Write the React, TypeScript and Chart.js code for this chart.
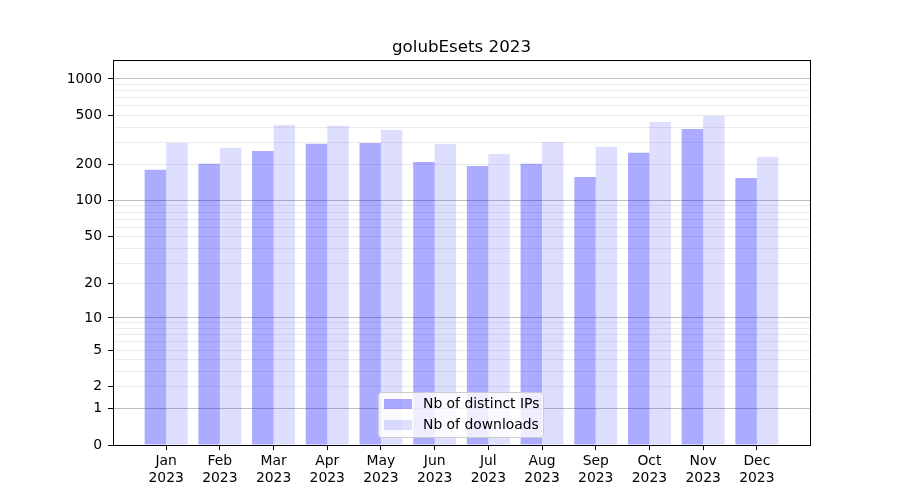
import React, { useEffect, useRef } from "react";
import { Chart, registerables, LinearScale } from "chart.js";

Chart.register(...registerables);

class Log1pScale extends LinearScale {
  static id = "log1p";
  static defaults = LinearScale.defaults;
  getPixelForValue(value: number) {
    const tmax = Math.log10(1 + this.max);
    const t = Math.log10(1 + Math.max(0, value));
    return this.getPixelForDecimal(t / tmax);
  }
  getValueForPixel(pixel: number) {
    const tmax = Math.log10(1 + this.max);
    return Math.pow(10, this.getDecimalForPixel(pixel) * tmax) - 1;
  }
}
Chart.register(Log1pScale as any);

const TITLE = "golubEsets 2023";
const months = ["Jan", "Feb", "Mar", "Apr", "May", "Jun", "Jul", "Aug", "Sep", "Oct", "Nov", "Dec"];
const yearLabel = "2023";
const distinctIPs = [179, 201, 256, 293, 298, 208, 193, 201, 156, 247, 388, 153];
const downloads = [298, 272, 419, 412, 381, 292, 242, 304, 277, 444, 497, 229];
const seriesNames = ["Nb of distinct IPs", "Nb of downloads"];
const labeledTicks = [0, 1, 2, 5, 10, 20, 50, 100, 200, 500, 1000];
const decadeTicks = [1, 10, 100, 1000];
const minorTicks = [2, 3, 4, 5, 6, 7, 8, 9, 20, 30, 40, 50, 60, 70, 80, 90, 200, 300, 400, 500, 600, 700, 800, 900];
const Y_MAX = 1430;

const colorDark = "rgba(0,0,255,0.33)";
const colorLight = "rgba(0,0,255,0.13)";
const FONT = '"DejaVu Sans", sans-serif';

const framePlugin = {
  id: "frameTitleLegend",
  afterDraw(chart: any) {
    const { ctx, chartArea } = chart;
    ctx.save();
    ctx.strokeStyle = "#000";
    ctx.lineWidth = 1;
    ctx.strokeRect(
      Math.round(chartArea.left) + 0.5,
      Math.round(chartArea.top) + 0.5,
      Math.round(chartArea.right - chartArea.left),
      Math.round(chartArea.bottom - chartArea.top)
    );
    ctx.fillStyle = "#000";
    ctx.font = `16.7px ${FONT}`;
    ctx.textAlign = "center";
    ctx.textBaseline = "alphabetic";
    ctx.fillText(TITLE, (chartArea.left + chartArea.right) / 2, 52);
    const bx = 378.5, by = 392.5, bw = 165, bh = 45, r = 3;
    ctx.beginPath();
    ctx.moveTo(bx + r, by);
    ctx.lineTo(bx + bw - r, by);
    ctx.quadraticCurveTo(bx + bw, by, bx + bw, by + r);
    ctx.lineTo(bx + bw, by + bh - r);
    ctx.quadraticCurveTo(bx + bw, by + bh, bx + bw - r, by + bh);
    ctx.lineTo(bx + r, by + bh);
    ctx.quadraticCurveTo(bx, by + bh, bx, by + bh - r);
    ctx.lineTo(bx, by + r);
    ctx.quadraticCurveTo(bx, by, bx + r, by);
    ctx.closePath();
    ctx.fillStyle = "rgba(255,255,255,0.8)";
    ctx.fill();
    ctx.strokeStyle = "#cccccc";
    ctx.stroke();
    const colors = [colorDark, colorLight];
    ctx.font = `13.9px ${FONT}`;
    ctx.textAlign = "left";
    ctx.textBaseline = "middle";
    seriesNames.forEach((name, i) => {
      const y = 399 + i * 21;
      ctx.fillStyle = colors[i];
      ctx.fillRect(384, y, 28, 10);
      ctx.fillStyle = "#000";
      ctx.fillText(name, 423, y + 5);
    });
    ctx.restore();
  },
};

export default function App() {
  const ref = useRef<HTMLCanvasElement>(null);
  useEffect(() => {
    document.body.style.margin = "0";
    const chart = new Chart(ref.current!, {
      type: "bar",
      data: {
        datasets: [
          {
            label: seriesNames[0],
            data: distinctIPs.map((v, i) => ({ x: i, y: v })),
            backgroundColor: colorDark,
            borderWidth: 0,
          },
          {
            label: seriesNames[1],
            data: downloads.map((v, i) => ({ x: i, y: v })),
            backgroundColor: colorLight,
            borderWidth: 0,
          },
        ],
      },
      options: {
        responsive: false,
        animation: false,
        devicePixelRatio: 1,
        layout: { padding: { left: 0, top: 60, right: 90, bottom: 0 } },
        datasets: { bar: { categoryPercentage: 0.8, barPercentage: 1.0 } },
        plugins: { legend: { display: false }, title: { display: false }, tooltip: { enabled: false } },
        scales: {
          x: {
            type: "linear",
            min: -0.99,
            max: 11.99,
            offset: false,
            afterBuildTicks: (scale: any) => {
              scale.ticks = months.map((_, i) => ({ value: i }));
            },
            afterFit: (scale: any) => {
              scale.height = 55;
            },
            ticks: {
              autoSkip: false,
              maxRotation: 0,
              padding: 3,
              color: "#000",
              font: { family: FONT, size: 13.9 },
              callback: (v: any) => [months[Math.round(v)], yearLabel],
            },
            grid: { offset: false, drawOnChartArea: false, drawTicks: true, tickLength: 5, tickColor: "#000" },
            border: { display: true, color: "#000", width: 1 },
          },
          y: {
            type: "log1p" as any,
            min: 0,
            max: Y_MAX,
            afterBuildTicks: (scale: any) => {
              const vals = Array.from(new Set([0, ...labeledTicks, ...minorTicks, ...decadeTicks])).sort((a, b) => a - b);
              scale.ticks = vals.map((v) => ({ value: v }));
            },
            afterFit: (scale: any) => {
              scale.width = 113;
            },
            ticks: {
              autoSkip: false,
              padding: 6,
              color: "#000",
              font: { family: FONT, size: 13.9 },
              callback: (v: any) => (labeledTicks.includes(v) ? String(v) : ""),
            },
            grid: {
              drawTicks: true,
              tickLength: 5,
              lineWidth: 1,
              color: (ctx: any) => {
                const v = ctx.tick?.value;
                if (v === 0) return "rgba(0,0,0,0)";
                return decadeTicks.includes(v) ? "rgba(0,0,0,0.25)" : "rgba(0,0,0,0.08)";
              },
              tickColor: (ctx: any) => (labeledTicks.includes(ctx.tick?.value) ? "#000" : "rgba(0,0,0,0)"),
            },
            border: { display: true, color: "#000", width: 1 },
          },
        },
      },
      plugins: [framePlugin],
    } as any);
    return () => chart.destroy();
  }, []);
  return (
    <div style={{ position: "absolute", left: 0, top: 0, width: 900, height: 500, background: "#fff" }}>
      <canvas ref={ref} width={900} height={500} />
    </div>
  );
}
